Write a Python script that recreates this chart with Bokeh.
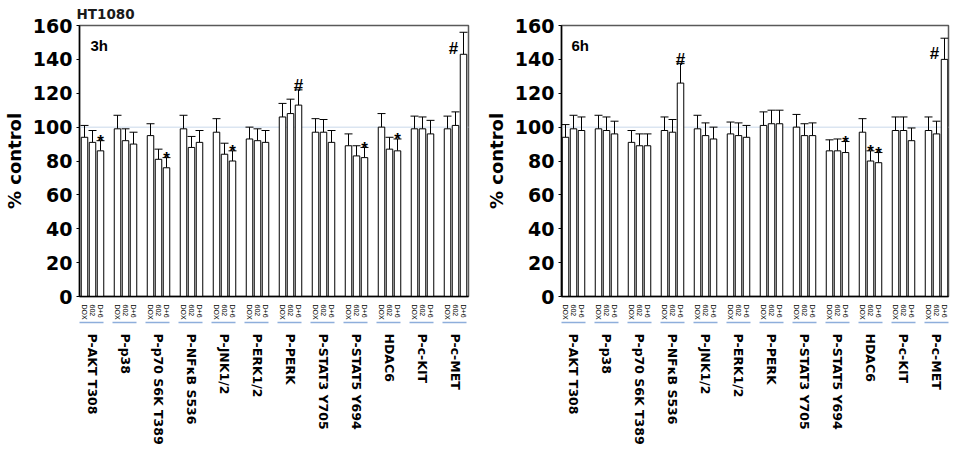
import math
from bokeh.plotting import figure
from bokeh.layouts import row
from bokeh.models import (ColumnDataSource, Range1d, FixedTicker, LinearAxis, Whisker,
                          TeeHead, Span)
from bokeh.core.properties import value
from bokeh.embed import file_html
from bokeh.resources import INLINE

groups = ["P-AKT T308", "P-p38", "P-p70 S6K T389", "P-NF\u03baB S536", "P-JNK1/2",
          "P-ERK1/2", "P-PERK", "P-STAT3 Y705", "P-STAT5 Y694", "HDAC6", "P-c-KIT", "P-c-MET"]
treatments = ["DOX", "602", "D+6"]
y_ticks = [0, 20, 40, 60, 80, 100, 120, 140, 160]

# 3h values (% control) per group: DOX, 602, D+6
vals_3h = [94, 91, 86, 99, 92, 90, 95, 81, 76, 99, 88, 91, 97, 84, 80, 93, 92, 91,
           106, 108, 113, 97, 97, 91, 89, 83, 82, 100, 87, 86, 99, 99, 96, 99, 101, 143]
errs_3h = [7, 7, 6, 8, 7, 7, 7, 6, 6, 8, 6.5, 7, 8, 6.5, 6, 7, 7, 7,
           8, 8.5, 9, 8, 7.5, 7, 7, 6, 6, 8, 7, 7, 7.5, 7, 8, 7.5, 8, 13]
marks_3h = [(0, 2, "*"), (2, 2, "*"), (4, 2, "*"), (6, 2, "#"), (8, 2, "*"), (9, 2, "*"), (11, 2, "#")]

# 6h values
vals_6h = [94, 99, 98, 99, 98, 96, 91, 89, 89, 98, 97, 126, 99, 95, 93, 96, 95, 94,
           101, 102, 102, 100, 95, 95, 86, 86, 85, 97, 80, 79, 98, 98, 92, 98, 96, 140]
errs_6h = [7.5, 8, 8, 8, 8, 7.5, 7, 7, 7, 8, 7.5, 11.5, 8, 7.5, 7, 7, 7.5, 7,
           8, 8, 8, 7.5, 7, 7.5, 6.5, 7, 6.5, 8, 6, 6, 8, 8, 7.5, 8, 7.5, 12.5]
marks_6h = [(3, 2, "#"), (8, 2, "*"), (9, 1, "*"), (9, 2, "*"), (11, 2, "#")]

BAR_PITCH = 80     # 8 px
GROUP_PITCH = 330  # 33 px
BAR_W = 65
PX = 0.1           # px per x unit

BOLD = "DejaVu Sans"
ARIAL = "Liberation Sans"


def make_panel(vals, errs, marks, tag, x_start, x_end, border_left, border_right, title=None):
    xs, labels = [], {}
    for g in range(len(groups)):
        for k, t in enumerate(treatments):
            x = g * GROUP_PITCH + k * BAR_PITCH
            xs.append(x)
            labels[x] = t
    group_centers = {g * GROUP_PITCH + BAR_PITCH: name for g, name in enumerate(groups)}
    upper = [v + e for v, e in zip(vals, errs)]
    src = ColumnDataSource(dict(x=xs, top=vals, upper=upper))

    frame_w = int(round((x_end - x_start) * PX))
    p = figure(frame_width=frame_w, frame_height=271, output_backend="svg",
               toolbar_location=None, x_range=Range1d(x_start, x_end),
               y_range=Range1d(0, 160), x_axis_location=None,
               min_border_left=border_left, min_border_right=border_right,
               min_border_top=22, min_border_bottom=0, title=title)
    p.background_fill_color = "white"
    p.border_fill_color = "white"
    p.outline_line_color = "#595959"
    p.outline_line_width = 1.5
    p.grid.visible = False
    if title:
        p.title.text_font = BOLD
        p.title.text_font_size = "13.5px"
        p.title.text_font_style = "bold"
        p.title.text_color = "#1a1a1a"
        p.title.standoff = 7
        p.title.offset = -3

    ya = p.yaxis[0]
    ya.ticker = FixedTicker(ticks=y_ticks)
    ya.minor_tick_line_color = None
    ya.major_tick_in = 0
    ya.major_tick_out = 3
    ya.major_label_standoff = 4
    ya.major_label_text_font = BOLD
    ya.major_label_text_font_style = "bold"
    ya.major_label_text_font_size = "19px"
    ya.major_label_text_color = "black"
    ya.axis_label = "% control"
    ya.axis_label_text_font = BOLD
    ya.axis_label_text_font_style = "bold"
    ya.axis_label_text_font_size = "18px"
    ya.axis_label_text_color = "black"
    ya.axis_label_standoff = 5
    ya.axis_line_color = "black"
    ya.axis_line_width = 1.5

    sub_axis = LinearAxis(ticker=FixedTicker(ticks=xs), major_label_overrides=labels)
    sub_axis.major_tick_line_color = None
    sub_axis.minor_tick_line_color = None
    sub_axis.axis_line_color = "black"
    sub_axis.axis_line_width = 1.5
    sub_axis.major_label_orientation = -math.pi / 2
    sub_axis.major_label_text_font = ARIAL
    sub_axis.major_label_text_font_size = "7px"
    sub_axis.major_label_text_color = "black"
    sub_axis.major_label_standoff = 2
    p.add_layout(sub_axis, "below")

    grp_axis = LinearAxis(ticker=FixedTicker(ticks=list(group_centers.keys())),
                          major_label_overrides=group_centers)
    grp_axis.major_tick_line_color = None
    grp_axis.minor_tick_line_color = None
    grp_axis.axis_line_color = "#8eaedb"
    grp_axis.axis_line_width = 1.5
    grp_axis.axis_line_dash = "24 9"
    grp_axis.major_label_orientation = -math.pi / 2
    grp_axis.major_label_text_font = BOLD
    grp_axis.major_label_text_font_style = "bold"
    grp_axis.major_label_text_font_size = "12.5px"
    grp_axis.major_label_text_color = "black"
    grp_axis.major_label_standoff = 5
    p.add_layout(grp_axis, "below")

    p.add_layout(Span(location=100, dimension="width", line_color="#dbe5f1", line_width=1.5,
                      level="underlay"))

    p.vbar(x="x", top="top", bottom=0, width=BAR_W, source=src, fill_color="white",
           line_color="black", line_width=1)
    p.add_layout(Whisker(base="x", upper="upper", lower="top", source=src, dimension="height",
                         line_color="black", line_width=1, lower_head=None,
                         upper_head=TeeHead(size=8, line_color="black", line_width=1)))

    mx, my, mt, mo = [], [], [], []
    for g, k, sym in marks:
        i = g * 3 + k
        top_err = vals[i] + errs[i]
        if top_err > 150:
            mx.append(xs[i]); my.append(vals[i] + 3.5); mo.append(-10)
        else:
            mx.append(xs[i]); my.append(top_err + (2.5 if sym == "#" else -0.5)); mo.append(0)
        mt.append(sym)
    p.text(x=mx, y=my, text=mt, x_offset=mo, text_align="center", text_baseline="alphabetic",
           text_font=value(ARIAL), text_font_style="bold", text_font_size="17px", text_color="black")

    p.text(x=[xs[0]], y=[153], text=[tag], x_offset=6, text_align="left", text_baseline="top",
           text_font=value(ARIAL), text_font_style="bold", text_font_size="15px", text_color="black")
    return p


p1 = make_panel(vals_3h, errs_3h, marks_3h, "3h", -50, 3840, 75, 6, title="HT1080")
p2 = make_panel(vals_6h, errs_6h, marks_6h, "6h", -40, 3830, 87, 2)

layout = row(p1, p2)
open("out.html", "w").write(file_html(layout, INLINE))
